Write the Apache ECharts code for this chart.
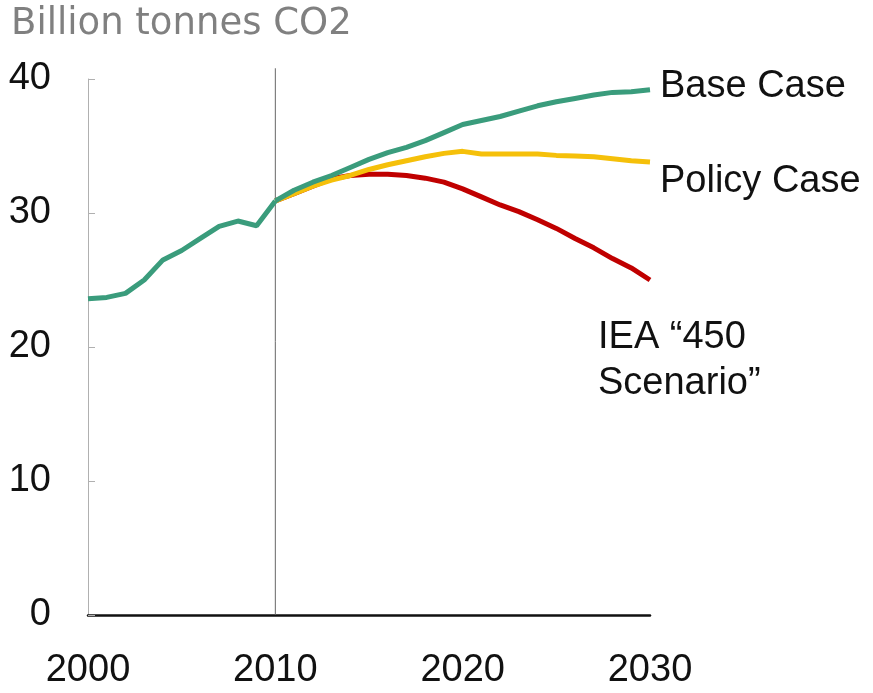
<!DOCTYPE html>
<html><head><meta charset="utf-8">
<script src="https://cdn.jsdelivr.net/npm/echarts@6/dist/echarts.min.js"></script>
<style>html,body{margin:0;padding:0;background:#fff}#c{width:873px;height:693px}</style>
</head><body><div id="c"></div>
<script>
const years = [2000,2001,2002,2003,2004,2005,2006,2007,2008,2009,2010,2011,2012,2013,2014,2015,2016,2017,2018,2019,2020,2021,2022,2023,2024,2025,2026,2027,2028,2029,2030];
const historyYears = years.slice(0, 11);
const projYears = years.slice(10);
const historical = [23.6,23.7,24.0,25.0,26.5,27.2,28.1,29.0,29.4,29.05,30.9];
const baseCase = [30.9,31.7,32.3,32.8,33.4,34.0,34.5,34.9,35.4,36.0,36.6,36.9,37.2,37.6,38.0,38.3,38.55,38.8,39.0,39.05,39.2];
const policyCase = [30.9,31.45,32.0,32.45,32.8,33.25,33.6,33.9,34.2,34.45,34.6,34.4,34.4,34.4,34.4,34.3,34.25,34.2,34.05,33.9,33.8];
const iea450 = [30.9,31.45,32.0,32.55,32.8,32.9,32.9,32.8,32.6,32.3,31.8,31.2,30.6,30.1,29.5,28.85,28.1,27.4,26.6,25.9,25.0];
const yTicks = [0,10,20,30,40];
const xTicks = [2000,2010,2020,2030];
const dividerYear = 2010;
const dividerSpan = [0, 40.8];
const labels = {base:'Base Case', policy:'Policy Case', iea:'IEA \u201c450\nScenario\u201d'};
const title = 'Billion tonnes CO2';

const pair = (xs, ys) => xs.map((x,i)=>[x, ys[i]]);
const chart = echarts.init(document.getElementById('c'), null, {renderer:'canvas'});
const FONT = '"Liberation Sans", Arial, sans-serif';
const GREEN = '#3a9c7c', YELLOW = '#f5c00a', RED = '#c00000';
chart.setOption({
  animation:false,
  title:{text:title,left:6,top:1,textStyle:{fontFamily:'"DejaVu Sans", sans-serif',fontSize:37,fontWeight:'normal',color:'#808080'}},
  grid:{left:88,right:223,top:79,bottom:78,containLabel:false},
  xAxis:{type:'value',min:2000,max:2030,interval:10,
    axisLine:{show:true,lineStyle:{color:'#111',width:2.5}},
    axisTick:{show:false},splitLine:{show:false},
    axisLabel:{fontFamily:FONT,fontSize:38,color:'#111',margin:37,formatter:v=>xTicks.includes(v)?String(v):''}},
  yAxis:{type:'value',min:0,max:40,interval:10,
    axisLine:{show:true,lineStyle:{color:'#b0b0b0',width:1}},
    axisTick:{show:true,inside:true,length:7,lineStyle:{color:'#b0b0b0'}},
    splitLine:{show:false},
    axisLabel:{fontFamily:FONT,fontSize:38,color:'#111',margin:37,formatter:v=>yTicks.includes(v)?String(v):''}},
  series:[
    {type:'line',name:'divider',data:dividerSpan.map(v=>[dividerYear,v]),symbol:'none',z:1,clip:false,silent:true,
      lineStyle:{color:'#666',width:1}},
    {type:'line',name:'IEA 450 Scenario',data:pair(projYears,iea450),symbol:'none',z:2,
      lineStyle:{color:RED,width:5},
      endLabel:{show:true,formatter:labels.iea,fontFamily:FONT,fontSize:38,lineHeight:46,color:'#111',distance:10,offset:[-62,81]}},
    {type:'line',name:'Policy Case',data:pair(projYears,policyCase),symbol:'none',z:3,
      lineStyle:{color:YELLOW,width:5},
      endLabel:{show:true,formatter:labels.policy,fontFamily:FONT,fontSize:38,color:'#111',distance:10,offset:[0,19]}},
    {type:'line',name:'Base Case',data:pair(projYears,baseCase),symbol:'none',z:4,
      lineStyle:{color:GREEN,width:5},
      endLabel:{show:true,formatter:labels.base,fontFamily:FONT,fontSize:38,color:'#111',distance:10,offset:[0,-3]}},
    {type:'line',name:'Historical',data:pair(historyYears,historical),symbol:'none',z:4,
      lineStyle:{color:GREEN,width:5}}
  ]
});
</script></body></html>
